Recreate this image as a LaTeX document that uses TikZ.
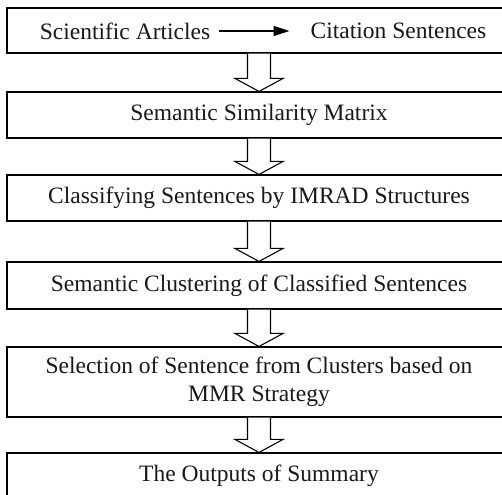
\documentclass[tikz,border=0pt]{standalone}
\usepackage{fontspec}
\setmainfont{Liberation Serif}
\usetikzlibrary{calc,arrows.meta}
\tikzset{
  box/.style={draw=black, line width=1.1pt, fill=white, minimum width=504pt, inner sep=0pt, align=center, text=black!90, font=\fontsize{23.5}{28}\selectfont},
  txt/.style={inner sep=0pt, text=black!90, font=\fontsize{23.5}{28}\selectfont},
  barrow/.style={draw=black, line width=1.1pt, fill=white, line join=miter},
  inarrow/.style={draw=black, line width=1.1pt, -{Triangle[length=16pt,width=10pt]}}
}
\newcommand\blockarr[2]{\draw[barrow] ($(#1.south)+(-11.5,0)$) -- ($(#2.north)+(-11.5,13)$) -- ($(#2.north)+(-24,13)$) -- (#2.north) -- ($(#2.north)+(24,13)$) -- ($(#2.north)+(11.5,13)$) -- ($(#1.south)+(11.5,0)$);}
\begin{document}
\begin{tikzpicture}[x=1pt,y=1pt]
\useasboundingbox (0,0) rectangle (502,494);
\clip (0,0) rectangle (502,494);
\fill[white] (0,0) rectangle (502,494);
\node[box, minimum height=45pt] (b1) at (259,463.5) {};
\node[box, minimum height=46pt] (b2) at (259,379) {Semantic Similarity Matrix};
\node[box, minimum height=46pt] (b3) at (259,296) {Classifying Sentences by IMRAD Structures};
\node[box, minimum height=47pt] (b4) at (259,208.5) {Semantic Clustering of Classified Sentences};
\node[box, minimum height=70pt] (b5) at (259,112) {Selection of Sentence from Clusters based on\\MMR Strategy};
\node[box, minimum height=46pt] (b6) at (259,18) {The Outputs of Summary};
\node[txt] (sa) at (125,463) {Scientific Articles};
\node[txt] (cs) at (398.5,463) {Citation Sentences};
\draw[inarrow, shorten <=9pt, shorten >=21pt] (sa.east) -- (sa.east -| cs.west);
\blockarr{b1}{b2}
\blockarr{b2}{b3}
\blockarr{b3}{b4}
\blockarr{b4}{b5}
\blockarr{b5}{b6}
\end{tikzpicture}
\end{document}
